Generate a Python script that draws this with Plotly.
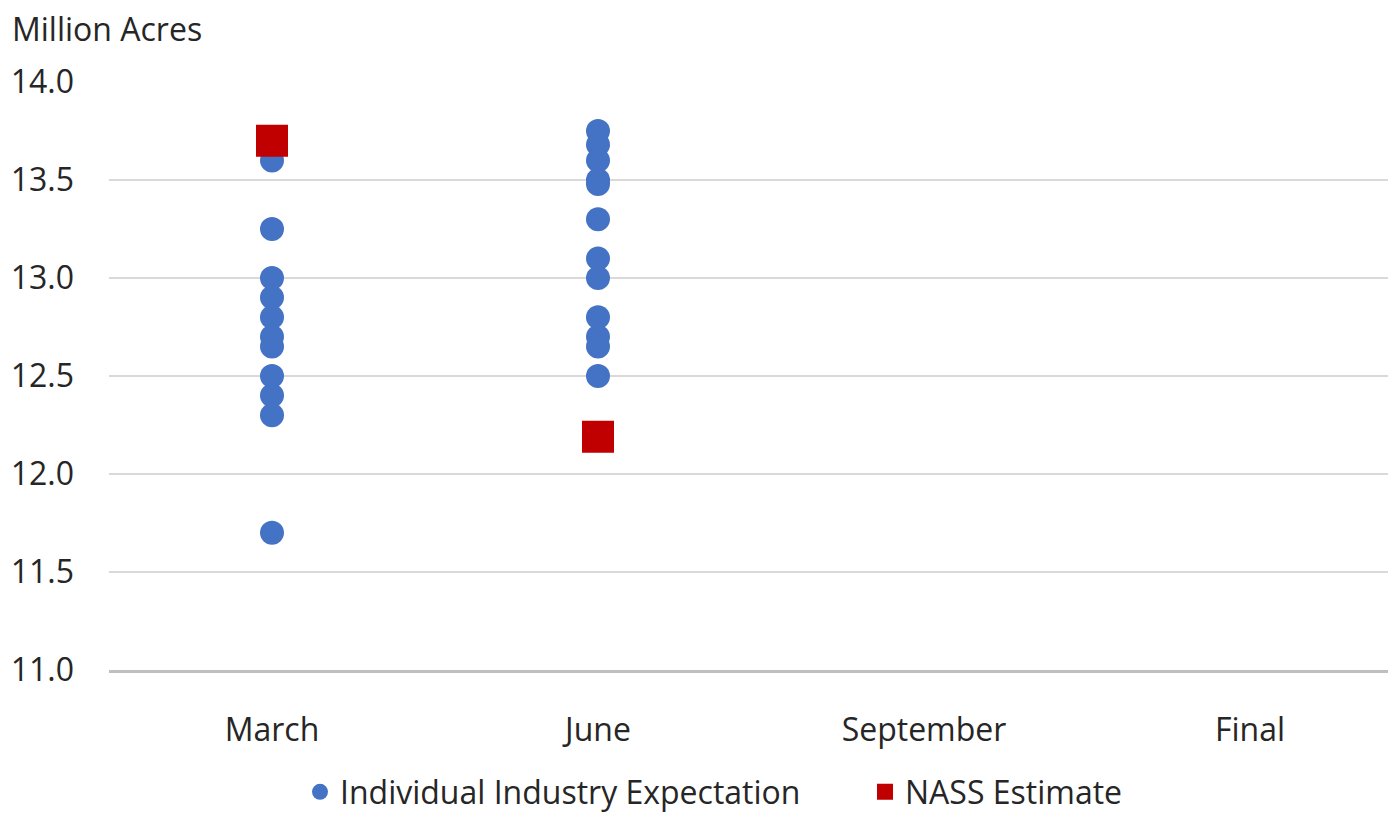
import plotly.graph_objects as go

categories = ["March", "June", "September", "Final"]

march_expectations = [13.6, 13.25, 13.0, 12.9, 12.8, 12.7, 12.65, 12.5, 12.4, 12.3, 11.7]
june_expectations = [13.75, 13.68, 13.6, 13.5, 13.48, 13.3, 13.1, 13.0, 12.8, 12.7, 12.65, 12.5]
nass_months = ["March", "June"]
nass_estimates = [13.7, 12.19]

y_ticks = [11.0, 11.5, 12.0, 12.5, 13.0, 13.5, 14.0]
y_tick_labels = ["11.0", "11.5", "12.0", "12.5", "13.0", "13.5", "14.0"]

FONT = "Open Sans"
TXT = "#262626"
FS = 32

exp_x = ["March"] * len(march_expectations) + ["June"] * len(june_expectations)
exp_y = march_expectations + june_expectations

fig = go.Figure()
fig.add_trace(go.Scatter(
    x=exp_x, y=exp_y, mode="markers", name="Individual Industry Expectation",
    marker=dict(symbol="circle", size=24, color="#4472C4"), cliponaxis=False,
))
fig.add_trace(go.Scatter(
    x=nass_months, y=nass_estimates, mode="markers", name="NASS Estimate",
    marker=dict(symbol="square", size=32, color="#C00000"), cliponaxis=False,
))

# page body has an 8px margin; figure coordinates are offset by 8px
OFF = 8
W, H = 1396 - OFF, 813 - OFF
L, R, T = 109 - OFF, 0, 82 - OFF
B = H - (670 - OFF)
pw = W - L - R
ph = H - T - B

fig.update_layout(
    width=W, height=H,
    margin=dict(l=L, r=R, t=T, b=B, pad=0, autoexpand=False),
    paper_bgcolor="white", plot_bgcolor="white",
    font=dict(family=FONT, size=FS, color=TXT),
    title=dict(
        text="Million Acres", xref="container", yref="container",
        x=(12 - OFF) / W, xanchor="left",
        y=1 - (30 - OFF) / H, yanchor="middle",
        font=dict(family=FONT, size=FS, color=TXT),
    ),
    showlegend=True,
    legend=dict(
        orientation="h", x=(300 - 109) / pw, xanchor="left",
        y=-(792 - 670) / ph, yanchor="middle",
        font=dict(family=FONT, size=FS, color=TXT),
        itemsizing="trace", traceorder="normal",
        entrywidth=520, entrywidthmode="pixels",
        bgcolor="rgba(0,0,0,0)",
    ),
    xaxis=dict(
        type="category", categoryorder="array", categoryarray=categories,
        tickvals=categories, ticktext=categories,
        range=[-0.5, 3.5 - 17 / 326],
        showgrid=False, zeroline=False,
        showline=True, linecolor="#BFBFBF", linewidth=3,
        ticks="", ticklabelstandoff=30,
        tickfont=dict(family=FONT, size=FS, color=TXT),
    ),
    yaxis=dict(
        range=[11.0, 14.0], tickvals=y_ticks, ticktext=y_tick_labels,
        showgrid=True, gridcolor="#D9D9D9", gridwidth=2,
        zeroline=False, showline=False, ticks="", ticklabelstandoff=34,
        tickfont=dict(family=FONT, size=FS, color=TXT),
    ),
)

fig.write_html("out.html")
